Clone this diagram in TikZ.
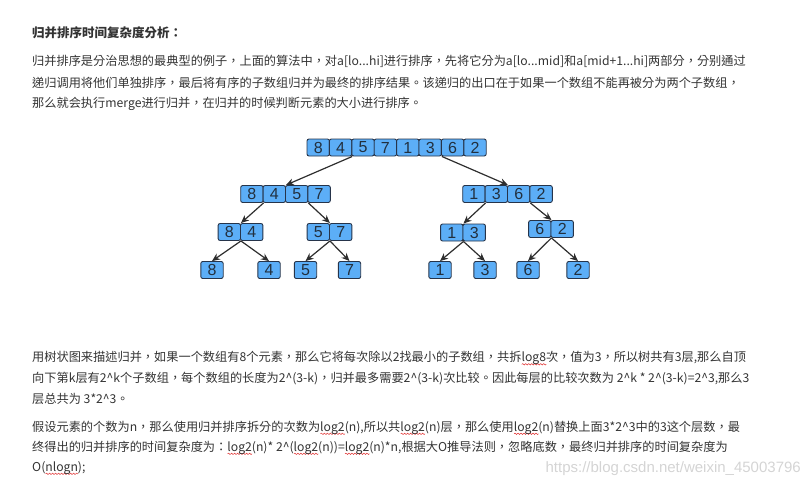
\documentclass[tikz,border=0pt]{standalone}
\usepackage{fontspec}
\usepackage{xcolor}
\usetikzlibrary{arrows.meta,decorations.pathmorphing}
\setmainfont{Noto Sans CJK TC}
\newfontfamily\digitfont{Liberation Sans}
\newfontfamily\markfont{Liberation Sans}
\definecolor{txtgray}{HTML}{333333}
\definecolor{digitgray}{HTML}{22303F}
\definecolor{cellfill}{HTML}{5CAEF7}
\definecolor{celledge}{HTML}{26344A}
\definecolor{arrowgray}{HTML}{2E2E2E}
\definecolor{squig}{HTML}{E03030}
\definecolor{markgray}{HTML}{D4D4D4}
\newcommand{\crt}{\textasciicircum}
\newlength{\sqlen}
\newcommand{\sq}[1]{\settowidth{\sqlen}{#1}\rlap{\tikz[baseline=0pt]\draw[squig,line width=0.5pt,decorate,decoration={snake,amplitude=0.7pt,segment length=3pt}] (0pt,-2.8pt) -- (\sqlen,-2.8pt);}#1}
\tikzset{
  cell/.style={draw=celledge, fill=cellfill, line width=0.9pt, rounded corners=2pt,
    minimum width=22.4pt, minimum height=17pt, inner sep=0pt,
    font=\digitfont\fontsize{16}{16}\selectfont, text=digitgray},
  para/.style={anchor=base west, inner sep=0pt, text=txtgray,
    font=\fontsize{12.2}{14}\selectfont},
  split/.style={draw=arrowgray, line width=1.2pt, -{Stealth[length=8pt,width=7pt]}},
}
\begin{document}
\begin{tikzpicture}[x=1pt,y=-1pt]
	\useasboundingbox (0,0) rectangle (812,482);
	% heading and first paragraph
	\node[para, font=\fontsize{12.5}{14}\selectfont\bfseries] (title) at (32,37.5) {归并排序时间复杂度分析：};
	\node[para] (p1a) at (32,65.5) {归并排序是分治思想的最典型的例子，上面的算法中，对a[lo...hi]进行排序，先将它分为a[lo...mid]和a[mid+1...hi]两部分，分别通过};
	\node[para] (p1b) at (32,87) {递归调用将他们单独排序，最后将有序的子数组归并为最终的排序结果。该递归的出口在于如果一个数组不能再被分为两个子数组，};
	\node[para] (p1c) at (32,107.5) {那么就会执行merge进行归并，在归并的时候判断元素的大小进行排序。};
	% level 0
	\foreach \v [count=\i] in {8,4,5,7,1,3,6,2}
		\node[cell] (a\i) at (295.8+22.4*\i,147.5) {\v};
	% level 1
	\foreach \v [count=\i] in {8,4,5,7}
		\node[cell] (b\i) at (229.5+22.4*\i,194) {\v};
	\foreach \v [count=\i] in {1,3,6,2}
		\node[cell] (c\i) at (451.5+22.4*\i,194) {\v};
	% level 2
	\foreach \v [count=\i] in {8,4}
		\node[cell] (d\i) at (206.9+22.4*\i,232) {\v};
	\foreach \v [count=\i] in {5,7}
		\node[cell] (e\i) at (295.9+22.4*\i,232) {\v};
	\foreach \v [count=\i] in {1,3}
		\node[cell] (f\i) at (429.4+22.4*\i,232.5) {\v};
	\foreach \v [count=\i] in {6,2}
		\node[cell] (g\i) at (517.4+22.4*\i,229) {\v};
	% level 3
	\node[cell] (h1) at (212,270) {8};
	\node[cell] (h2) at (269,270) {4};
	\node[cell] (h3) at (305.5,270) {5};
	\node[cell] (h4) at (349.5,270) {7};
	\node[cell] (h5) at (440,270) {1};
	\node[cell] (h6) at (485,270) {3};
	\node[cell] (h7) at (528,270) {6};
	\node[cell] (h8) at (578,270) {2};
	% splits
	\draw[split] (a2.south east) -- (b2.north east);
	\draw[split] (a6.south east) -- (c2.north east);
	\draw[split] (b1.south east) -- (d1.north east);
	\draw[split] (b3.south east) -- (e1.north east);
	\draw[split] (c1.south east) -- (f1.north east);
	\draw[split] (c3.south east) -- (g1.north east);
	\draw[split] (d1.south east) -- (h1.north);
	\draw[split] (d1.south east) -- (h2.north);
	\draw[split] (e1.south east) -- (h3.north);
	\draw[split] (e1.south east) -- (h4.north);
	\draw[split] (f1.south east) -- (h5.north);
	\draw[split] (f1.south east) -- (h6.north);
	\draw[split] (g1.south east) -- (h7.north);
	\draw[split] (g1.south east) -- (h8.north);
	% second and third paragraph
	\node[para] (p2a) at (32,361.5) {用树状图来描述归并，如果一个数组有8个元素，那么它将每次除以2找最小的子数组，共拆\sq{log8}次，值为3，所以树共有3层,那么自顶};
	\node[para] (p2b) at (32,382.5) {向下第k层有2\crt k个子数组，每个数组的长度为2\crt(3-k)，归并最多需要2\crt(3-k)次比较。因此每层的比较次数为 2\crt k * 2\crt(3-k)=2\crt3,那么3};
	\node[para] (p2c) at (32,403) {层总共为 3*2\crt3。};
	\node[para] (p3a) at (32,431) {假设元素的个数为n，那么使用归并排序拆分的次数为\sq{log2}(n),所以共\sq{log2}(n)层，那么使用\sq{log2}(n)替换上面3*2\crt3中的3这个层数，最};
	\node[para] (p3b) at (32,451) {终得出的归并排序的时间复杂度为：\sq{log2}(n)* 2\crt(\sq{log2}(n))=\sq{log2}(n)*n,根据大O推导法则，忽略底数，最终归并排序的时间复杂度为};
	\node[para] (p3c) at (32,471) {O(\sq{nlogn});};
	% watermark
	\node[anchor=base east, inner sep=0pt, text=markgray, font=\markfont\fontsize{15}{15}\selectfont] (mark) at (801,472) {https://blog.csdn.net/weixin\_45003796};
\end{tikzpicture}
\end{document}
